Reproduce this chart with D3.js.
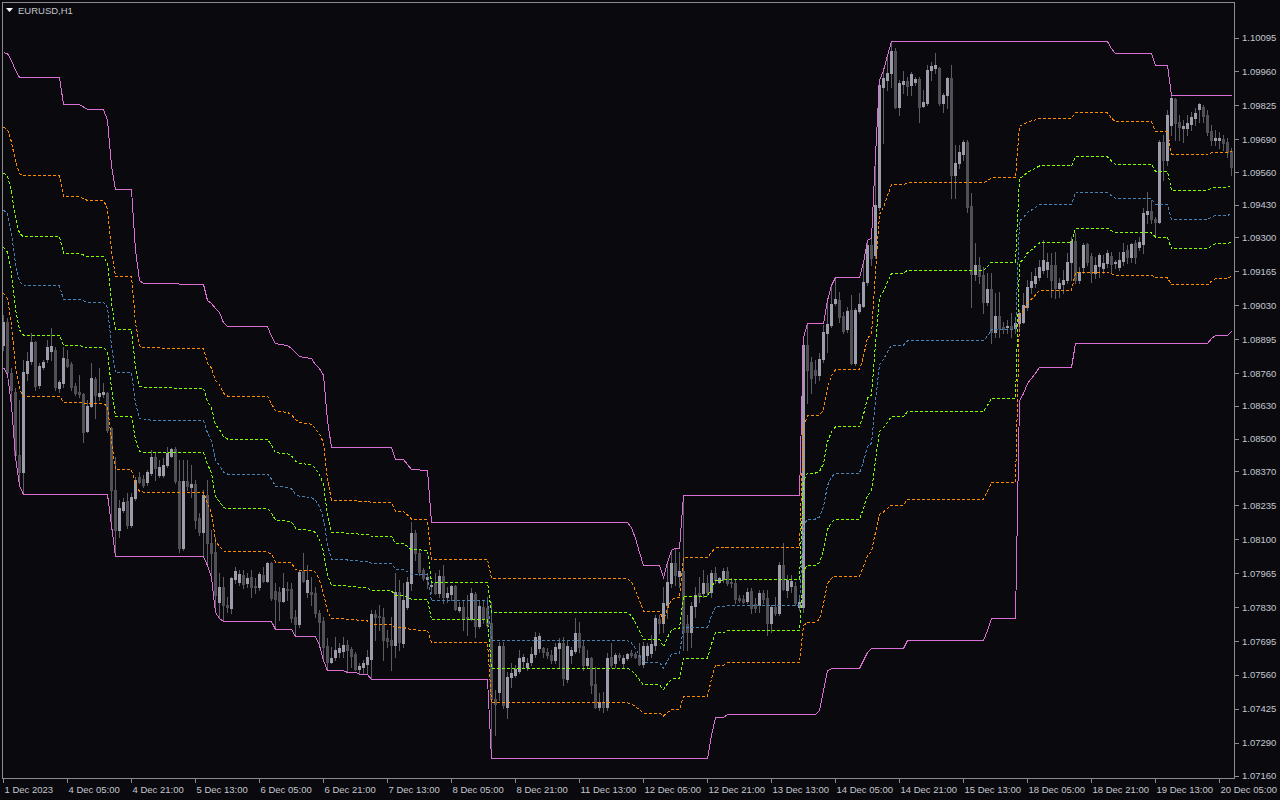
<!DOCTYPE html>
<html><head><meta charset="utf-8">
<script src="https://cdn.jsdelivr.net/npm/d3@7"></script>
<style>
html,body{margin:0;padding:0;background:#0a0a0e;overflow:hidden;}
svg{display:block;}
</style></head><body>
<svg id="chart" width="1280" height="800"></svg>
<script>
const chartTitle = "EURUSD,H1";
const timeLabels = ["1 Dec 2023","4 Dec 05:00","4 Dec 21:00","5 Dec 13:00","6 Dec 05:00","6 Dec 21:00","7 Dec 13:00","8 Dec 05:00","8 Dec 21:00","11 Dec 13:00","12 Dec 05:00","12 Dec 21:00","13 Dec 13:00","14 Dec 05:00","14 Dec 21:00","15 Dec 13:00","18 Dec 05:00","18 Dec 21:00","19 Dec 13:00","20 Dec 05:00"];
const timeLabelBars = [0,16,32,48,64,80,96,112,128,144,160,176,192,208,224,240,256,272,288,304];
const priceLabels = ["1.10095","1.09960","1.09825","1.09690","1.09560","1.09430","1.09300","1.09165","1.09030","1.08895","1.08760","1.08630","1.08500","1.08370","1.08235","1.08100","1.07965","1.07830","1.07695","1.07560","1.07425","1.07290","1.07160"];

const open = [1.08872,1.08963,1.08760,1.08686,1.08435,1.08367,1.08760,1.08808,1.08884,1.08712,
1.08784,1.08816,1.08848,1.08852,1.08700,1.08720,1.08816,1.08796,1.08708,1.08686,
1.08678,1.08530,1.08630,1.08736,1.08670,1.08678,1.08682,1.08542,1.08296,1.08136,
1.08216,1.08252,1.08156,1.08264,1.08347,1.08339,1.08327,1.08363,1.08427,1.08355,
1.08355,1.08395,1.08431,1.08459,1.08331,1.08065,1.08331,1.08307,1.08319,1.08184,
1.08128,1.08276,1.08085,1.08049,1.07850,1.07909,1.07838,1.07826,1.07941,1.07929,
1.07957,1.07925,1.07949,1.07913,1.07909,1.07957,1.07933,1.08005,1.07894,1.07890,
1.07854,1.07901,1.07901,1.07790,1.07762,1.07973,1.07890,1.07890,1.07886,1.07806,
1.07774,1.07675,1.07611,1.07631,1.07651,1.07655,1.07679,1.07663,1.07643,1.07583,
1.07591,1.07603,1.07623,1.07802,1.07794,1.07790,1.07706,1.07698,1.07679,1.07890,
1.07687,1.07830,1.07925,1.08124,1.08045,1.07977,1.07941,1.07913,1.07925,1.07886,
1.07953,1.07870,1.07882,1.07913,1.07818,1.07830,1.07790,1.07782,1.07882,1.07754,
1.07830,1.07826,1.07766,1.07464,1.07492,1.07675,1.07432,1.07551,1.07559,1.07575,
1.07615,1.07591,1.07611,1.07643,1.07667,1.07667,1.07651,1.07639,1.07619,1.07667,
1.07687,1.07543,1.07639,1.07655,1.07726,1.07675,1.07599,1.07627,1.07523,1.07432,
1.07452,1.07432,1.07631,1.07607,1.07639,1.07607,1.07627,1.07647,1.07643,1.07639,
1.07603,1.07639,1.07647,1.07679,1.07782,1.07766,1.07838,1.07925,1.08005,1.07953,
1.07973,1.07762,1.07730,1.07834,1.07886,1.07886,1.07925,1.07890,1.07965,1.07929,
1.07941,1.07973,1.07929,1.07925,1.07866,1.07862,1.07854,1.07894,1.07842,1.07838,
1.07886,1.07866,1.07766,1.07830,1.07806,1.07997,1.07898,1.07913,1.07913,1.07830,
1.07830,1.08872,1.08804,1.08772,1.08752,1.08816,1.08919,1.08951,1.09039,1.09051,
1.08987,1.08935,1.09011,1.08800,1.09007,1.09027,1.09122,1.09270,1.09230,1.09421,
1.09897,1.09925,1.09953,1.10041,1.09818,1.09909,1.09921,1.09905,1.09917,1.09929,
1.09822,1.09834,1.09965,1.09973,1.09973,1.09834,1.09866,1.09933,1.09547,1.09595,
1.09631,1.09679,1.09425,1.09154,1.09190,1.09150,1.09043,1.09094,1.08923,1.08987,
1.08943,1.08943,1.08947,1.08939,1.08959,1.08963,1.09023,1.09102,1.09118,1.09142,
1.09170,1.09174,1.09190,1.09190,1.09098,1.09114,1.09130,1.09202,1.09286,1.09130,
1.09182,1.09274,1.09226,1.09158,1.09186,1.09178,1.09198,1.09226,1.09198,1.09182,
1.09206,1.09250,1.09222,1.09278,1.09262,1.09274,1.09393,1.09405,1.09373,1.09361,
1.09679,1.09607,1.09746,1.09850,1.09758,1.09735,1.09735,1.09750,1.09774,1.09810,
1.09818,1.09786,1.09722,1.09687,1.09687,1.09690,1.09679,1.09643];

const high = [1.08991,1.08979,1.08780,1.08700,1.08654,1.08812,1.08844,1.08919,1.08888,1.08800,
1.08812,1.08892,1.08939,1.08864,1.08732,1.08864,1.08852,1.08804,1.08720,1.08752,
1.08682,1.08654,1.08800,1.08744,1.08780,1.08720,1.08686,1.08546,1.08427,1.08256,
1.08264,1.08284,1.08284,1.08347,1.08367,1.08355,1.08375,1.08455,1.08447,1.08415,
1.08423,1.08467,1.08463,1.08466,1.08415,1.08415,1.08415,1.08395,1.08335,1.08204,
1.08296,1.08335,1.08136,1.08108,1.07965,1.07949,1.07870,1.07949,1.07989,1.07977,
1.07977,1.07965,1.07977,1.07945,1.07969,1.07989,1.08009,1.08009,1.07925,1.07909,
1.07965,1.07929,1.07925,1.07818,1.07977,1.08045,1.07997,1.07949,1.07909,1.07818,
1.07790,1.07706,1.07671,1.07710,1.07687,1.07710,1.07698,1.07671,1.07651,1.07607,
1.07619,1.07659,1.07818,1.07818,1.07838,1.07826,1.07738,1.07790,1.07965,1.07937,
1.07925,1.07949,1.08168,1.08136,1.08057,1.07985,1.07965,1.07937,1.07965,1.07977,
1.07997,1.07909,1.07917,1.07917,1.07850,1.07858,1.07878,1.07905,1.07890,1.07858,
1.07858,1.07870,1.07850,1.07500,1.07691,1.07691,1.07571,1.07607,1.07599,1.07659,
1.07643,1.07627,1.07671,1.07730,1.07726,1.07671,1.07667,1.07659,1.07687,1.07706,
1.07710,1.07698,1.07671,1.07786,1.07770,1.07698,1.07659,1.07631,1.07591,1.07488,
1.07492,1.07647,1.07687,1.07647,1.07647,1.07639,1.07647,1.07659,1.07651,1.07687,
1.07691,1.07687,1.07718,1.07798,1.07798,1.07909,1.08009,1.08057,1.08065,1.08049,
1.08275,1.07798,1.07850,1.07909,1.07949,1.07977,1.07957,1.07977,1.07989,1.07949,
1.07985,1.07989,1.07945,1.07937,1.07878,1.07878,1.07905,1.07905,1.07866,1.07898,
1.07898,1.07898,1.07838,1.07870,1.08009,1.08085,1.07957,1.07957,1.07929,1.07878,
1.08903,1.08959,1.08824,1.08812,1.08840,1.08951,1.09051,1.09110,1.09142,1.09083,
1.09003,1.09023,1.09071,1.09019,1.09079,1.09202,1.09290,1.09297,1.09627,1.09925,
1.09965,1.10025,1.10081,1.10053,1.09925,1.09961,1.09937,1.09957,1.09937,1.09937,
1.09886,1.09985,1.09997,1.10033,1.09977,1.09874,1.09937,1.09985,1.09667,1.09667,
1.09687,1.09687,1.09477,1.09278,1.09222,1.09182,1.09158,1.09158,1.09079,1.09083,
1.08963,1.08971,1.08999,1.08971,1.09011,1.09079,1.09130,1.09162,1.09178,1.09210,
1.09290,1.09238,1.09238,1.09242,1.09138,1.09170,1.09238,1.09301,1.09317,1.09182,
1.09278,1.09278,1.09238,1.09222,1.09238,1.09230,1.09250,1.09242,1.09210,1.09242,
1.09278,1.09270,1.09278,1.09290,1.09301,1.09417,1.09481,1.09449,1.09381,1.09687,
1.09706,1.09806,1.09862,1.09854,1.09786,1.09766,1.09786,1.09798,1.09814,1.09834,
1.09826,1.09806,1.09746,1.09726,1.09718,1.09706,1.09695,1.09655];

const low = [1.08852,1.08756,1.08634,1.08427,1.08315,1.08280,1.08732,1.08796,1.08694,1.08700,
1.08776,1.08804,1.08812,1.08694,1.08686,1.08704,1.08784,1.08694,1.08674,1.08666,
1.08487,1.08526,1.08626,1.08582,1.08654,1.08666,1.08526,1.08156,1.08033,1.08108,
1.08208,1.08144,1.08148,1.08256,1.08323,1.08307,1.08315,1.08355,1.08335,1.08347,
1.08347,1.08387,1.08427,1.08323,1.08049,1.08057,1.08296,1.08268,1.08144,1.08116,
1.08033,1.07997,1.07949,1.07810,1.07786,1.07774,1.07810,1.07806,1.07925,1.07917,
1.07905,1.07909,1.07870,1.07886,1.07898,1.07929,1.07929,1.07858,1.07742,1.07778,
1.07850,1.07858,1.07770,1.07714,1.07750,1.07929,1.07870,1.07838,1.07790,1.07679,
1.07619,1.07579,1.07607,1.07619,1.07631,1.07631,1.07571,1.07591,1.07579,1.07563,
1.07563,1.07563,1.07543,1.07698,1.07738,1.07619,1.07671,1.07579,1.07631,1.07659,
1.07671,1.07822,1.07898,1.08017,1.07957,1.07937,1.07905,1.07886,1.07882,1.07870,
1.07846,1.07850,1.07858,1.07818,1.07810,1.07738,1.07718,1.07778,1.07710,1.07746,
1.07766,1.07750,1.07229,1.07320,1.07460,1.07428,1.07388,1.07511,1.07551,1.07567,
1.07591,1.07579,1.07599,1.07631,1.07651,1.07631,1.07627,1.07607,1.07607,1.07591,
1.07519,1.07531,1.07607,1.07647,1.07651,1.07579,1.07587,1.07488,1.07428,1.07420,
1.07412,1.07420,1.07591,1.07591,1.07619,1.07587,1.07619,1.07631,1.07627,1.07599,
1.07591,1.07619,1.07631,1.07659,1.07726,1.07730,1.07786,1.07909,1.07917,1.07909,
1.07659,1.07659,1.07671,1.07790,1.07850,1.07870,1.07878,1.07870,1.07925,1.07925,
1.07929,1.07917,1.07909,1.07846,1.07850,1.07846,1.07846,1.07806,1.07810,1.07810,
1.07846,1.07718,1.07730,1.07798,1.07798,1.07898,1.07870,1.07890,1.07838,1.07818,
1.07810,1.08642,1.08682,1.08720,1.08732,1.08804,1.08844,1.08943,1.09031,1.08963,
1.08919,1.08923,1.08796,1.08792,1.08999,1.09023,1.09110,1.09190,1.09218,1.09409,
1.09675,1.09886,1.09897,1.09814,1.09786,1.09874,1.09866,1.09866,1.09905,1.09758,
1.09818,1.09826,1.09925,1.09953,1.09826,1.09798,1.09814,1.09457,1.09457,1.09575,
1.09607,1.09401,1.09023,1.09130,1.09118,1.08999,1.09031,1.08880,1.08903,1.08903,
1.08919,1.08919,1.08903,1.08919,1.08939,1.08959,1.09011,1.09079,1.09102,1.09130,
1.09158,1.09142,1.09063,1.09059,1.09063,1.09079,1.09118,1.09130,1.09118,1.09118,
1.09158,1.09190,1.09122,1.09138,1.09142,1.09158,1.09182,1.09162,1.09178,1.09170,
1.09190,1.09198,1.09202,1.09198,1.09250,1.09238,1.09357,1.09357,1.09301,1.09357,
1.09527,1.09587,1.09706,1.09687,1.09687,1.09679,1.09706,1.09726,1.09746,1.09758,
1.09758,1.09706,1.09667,1.09667,1.09655,1.09647,1.09619,1.09547];

const close = [1.08963,1.08764,1.08694,1.08435,1.08367,1.08764,1.08808,1.08884,1.08708,1.08788,
1.08804,1.08864,1.08868,1.08704,1.08724,1.08820,1.08788,1.08704,1.08682,1.08678,
1.08526,1.08630,1.08740,1.08674,1.08682,1.08686,1.08534,1.08296,1.08136,1.08224,
1.08248,1.08156,1.08268,1.08335,1.08327,1.08315,1.08367,1.08427,1.08383,1.08387,
1.08395,1.08443,1.08459,1.08331,1.08065,1.08331,1.08311,1.08319,1.08176,1.08128,
1.08276,1.08085,1.08045,1.07878,1.07909,1.07838,1.07830,1.07945,1.07973,1.07961,
1.07921,1.07945,1.07909,1.07909,1.07961,1.07933,1.08005,1.07866,1.07862,1.07854,
1.07905,1.07898,1.07786,1.07762,1.07969,1.07933,1.07937,1.07882,1.07806,1.07770,
1.07671,1.07611,1.07627,1.07659,1.07667,1.07679,1.07659,1.07635,1.07583,1.07595,
1.07607,1.07631,1.07802,1.07790,1.07790,1.07698,1.07695,1.07679,1.07890,1.07691,
1.07858,1.07929,1.08124,1.08045,1.07969,1.07945,1.07949,1.07917,1.07886,1.07953,
1.07870,1.07886,1.07913,1.07822,1.07830,1.07786,1.07786,1.07886,1.07754,1.07834,
1.07782,1.07758,1.07464,1.07444,1.07675,1.07440,1.07551,1.07567,1.07583,1.07627,
1.07631,1.07607,1.07643,1.07710,1.07714,1.07651,1.07639,1.07619,1.07671,1.07687,
1.07547,1.07675,1.07659,1.07726,1.07671,1.07599,1.07627,1.07519,1.07432,1.07452,
1.07432,1.07627,1.07599,1.07639,1.07631,1.07627,1.07643,1.07639,1.07631,1.07603,
1.07675,1.07675,1.07683,1.07786,1.07766,1.07846,1.07929,1.08005,1.07957,1.07973,
1.07730,1.07730,1.07834,1.07878,1.07874,1.07925,1.07890,1.07965,1.07937,1.07945,
1.07973,1.07925,1.07925,1.07862,1.07858,1.07850,1.07890,1.07826,1.07826,1.07886,
1.07862,1.07766,1.07830,1.07806,1.07997,1.07901,1.07937,1.07933,1.07846,1.07850,
1.08872,1.08772,1.08740,1.08752,1.08816,1.08923,1.08955,1.09035,1.09055,1.08983,
1.08927,1.09007,1.08800,1.09011,1.09035,1.09122,1.09270,1.09218,1.09429,1.09905,
1.09933,1.09953,1.10041,1.09818,1.09913,1.09921,1.09901,1.09949,1.09929,1.09818,
1.09838,1.09965,1.09981,1.09985,1.09834,1.09866,1.09933,1.09547,1.09595,1.09639,
1.09679,1.09421,1.09154,1.09190,1.09146,1.09043,1.09094,1.08923,1.08987,1.08939,
1.08935,1.08947,1.08939,1.08959,1.08999,1.09031,1.09102,1.09126,1.09146,1.09182,
1.09210,1.09202,1.09130,1.09098,1.09118,1.09130,1.09202,1.09286,1.09130,1.09162,
1.09270,1.09202,1.09158,1.09190,1.09230,1.09198,1.09238,1.09194,1.09202,1.09210,
1.09242,1.09222,1.09274,1.09222,1.09282,1.09397,1.09405,1.09373,1.09361,1.09679,
1.09607,1.09786,1.09854,1.09754,1.09739,1.09743,1.09754,1.09778,1.09794,1.09830,
1.09782,1.09718,1.09687,1.09695,1.09695,1.09675,1.09639,1.09579];

// Band indicator: bar index where a value changes, and the value of each line there
const bandBars = [0,1,2,3,4,5,14,15,19,21,25,26,27,28,32,33,34,35,50,51,
52,53,54,55,56,66,67,68,71,72,73,74,77,78,79,80,81,82,85,86,
88,89,91,92,97,98,100,102,106,107,121,122,156,157,158,159,160,164,165,166,
167,168,169,170,176,177,178,180,181,199,200,201,203,204,205,206,207,208,214,215,
216,217,218,219,220,221,222,225,226,245,246,247,253,254,255,256,257,259,267,268,
276,277,278,287,288,291,292,301,302,303,306,307];

const upperBand = [1.10037,1.10033,1.10005,1.09966,1.09938,1.09938,1.09938,1.09830,1.09830,1.09811,
1.09811,1.09767,1.09588,1.09492,1.09492,1.09250,1.09130,1.09119,1.09115,1.09051,
1.09039,1.09019,1.09003,1.08963,1.08948,1.08948,1.08908,1.08880,1.08872,1.08860,
1.08844,1.08828,1.08820,1.08796,1.08780,1.08753,1.08574,1.08466,1.08466,1.08466,
1.08466,1.08466,1.08466,1.08466,1.08466,1.08419,1.08419,1.08379,1.08375,1.08168,
1.08168,1.08168,1.08168,1.08148,1.08104,1.08049,1.07997,1.07997,1.07949,1.08009,
1.08057,1.08065,1.08065,1.08275,1.08275,1.08275,1.08275,1.08275,1.08275,1.08275,
1.08904,1.08959,1.08959,1.08959,1.08959,1.09051,1.09111,1.09142,1.09142,1.09202,
1.09290,1.09298,1.09628,1.09926,1.09966,1.10025,1.10081,1.10081,1.10081,1.10081,
1.10081,1.10081,1.10081,1.10081,1.10081,1.10081,1.10081,1.10081,1.10081,1.10081,
1.10081,1.10053,1.10033,1.10033,1.09986,1.09986,1.09866,1.09866,1.09866,1.09866,
1.09866,1.09866];

const lowerBand = [1.08784,1.08757,1.08633,1.08426,1.08315,1.08279,1.08279,1.08279,1.08279,1.08279,
1.08279,1.08279,1.08156,1.08033,1.08033,1.08033,1.08033,1.08033,1.08033,1.07997,
1.07949,1.07810,1.07786,1.07774,1.07774,1.07774,1.07774,1.07743,1.07743,1.07743,
1.07715,1.07715,1.07715,1.07715,1.07679,1.07619,1.07579,1.07579,1.07579,1.07572,
1.07572,1.07564,1.07564,1.07544,1.07544,1.07544,1.07544,1.07544,1.07544,1.07544,
1.07544,1.07229,1.07229,1.07229,1.07229,1.07229,1.07229,1.07229,1.07229,1.07229,
1.07229,1.07229,1.07229,1.07229,1.07229,1.07321,1.07393,1.07393,1.07404,1.07404,
1.07404,1.07404,1.07404,1.07420,1.07500,1.07579,1.07587,1.07587,1.07587,1.07619,
1.07651,1.07667,1.07667,1.07667,1.07667,1.07667,1.07667,1.07667,1.07699,1.07699,
1.07739,1.07786,1.07786,1.08653,1.08681,1.08721,1.08741,1.08784,1.08784,1.08880,
1.08880,1.08880,1.08880,1.08880,1.08880,1.08880,1.08880,1.08880,1.08900,1.08912,
1.08912,1.08928];

const level236 = [1.09741,1.09732,1.09681,1.09603,1.09555,1.09547,1.09547,1.09464,1.09464,1.09449,
1.09449,1.09416,1.09250,1.09148,1.09148,1.08963,1.08871,1.08863,1.08860,1.08802,
1.08782,1.08734,1.08716,1.08682,1.08671,1.08671,1.08640,1.08612,1.08606,1.08596,
1.08578,1.08565,1.08559,1.08541,1.08520,1.08485,1.08339,1.08257,1.08257,1.08255,
1.08255,1.08253,1.08253,1.08248,1.08248,1.08213,1.08213,1.08182,1.08179,1.08021,
1.08021,1.07946,1.07946,1.07931,1.07898,1.07856,1.07816,1.07816,1.07779,1.07825,
1.07862,1.07868,1.07868,1.08028,1.08028,1.08050,1.08067,1.08067,1.08069,1.08069,
1.08550,1.08592,1.08592,1.08596,1.08615,1.08704,1.08751,1.08775,1.08775,1.08828,
1.08903,1.08913,1.09165,1.09393,1.09423,1.09469,1.09511,1.09511,1.09519,1.09519,
1.09528,1.09539,1.09539,1.09744,1.09751,1.09760,1.09765,1.09775,1.09775,1.09798,
1.09798,1.09776,1.09761,1.09761,1.09725,1.09725,1.09633,1.09633,1.09638,1.09641,
1.09641,1.09645];

const level382 = [1.09558,1.09546,1.09481,1.09378,1.09318,1.09304,1.09304,1.09238,1.09238,1.09226,
1.09226,1.09199,1.09041,1.08935,1.08935,1.08785,1.08711,1.08704,1.08702,1.08648,
1.08623,1.08557,1.08538,1.08509,1.08500,1.08500,1.08475,1.08446,1.08441,1.08433,
1.08413,1.08403,1.08398,1.08383,1.08359,1.08320,1.08194,1.08127,1.08127,1.08125,
1.08125,1.08121,1.08121,1.08114,1.08114,1.08085,1.08085,1.08060,1.08058,1.07930,
1.07930,1.07809,1.07809,1.07797,1.07770,1.07736,1.07704,1.07704,1.07674,1.07711,
1.07741,1.07746,1.07746,1.07875,1.07875,1.07911,1.07938,1.07938,1.07942,1.07942,
1.08331,1.08365,1.08365,1.08371,1.08402,1.08489,1.08529,1.08548,1.08548,1.08597,
1.08664,1.08675,1.08879,1.09063,1.09088,1.09124,1.09159,1.09159,1.09171,1.09171,
1.09186,1.09204,1.09204,1.09536,1.09546,1.09562,1.09569,1.09586,1.09586,1.09622,
1.09622,1.09605,1.09593,1.09593,1.09564,1.09564,1.09489,1.09489,1.09497,1.09502,
1.09502,1.09508];

const level500 = [1.09411,1.09395,1.09319,1.09196,1.09127,1.09109,1.09109,1.09055,1.09055,1.09045,
1.09045,1.09023,1.08872,1.08763,1.08763,1.08642,1.08582,1.08576,1.08574,1.08524,
1.08494,1.08415,1.08395,1.08369,1.08361,1.08361,1.08341,1.08312,1.08308,1.08302,
1.08280,1.08272,1.08268,1.08256,1.08230,1.08186,1.08077,1.08023,1.08023,1.08019,
1.08019,1.08015,1.08015,1.08005,1.08005,1.07982,1.07982,1.07962,1.07960,1.07856,
1.07856,1.07699,1.07699,1.07689,1.07667,1.07639,1.07613,1.07613,1.07589,1.07619,
1.07643,1.07647,1.07647,1.07752,1.07752,1.07798,1.07834,1.07834,1.07840,1.07840,
1.08154,1.08182,1.08182,1.08190,1.08230,1.08315,1.08349,1.08365,1.08365,1.08411,
1.08471,1.08483,1.08648,1.08797,1.08817,1.08846,1.08874,1.08874,1.08890,1.08890,
1.08910,1.08934,1.08934,1.09367,1.09381,1.09401,1.09411,1.09433,1.09433,1.09481,
1.09481,1.09467,1.09457,1.09457,1.09433,1.09433,1.09373,1.09373,1.09383,1.09389,
1.09389,1.09397];

const level618 = [1.09263,1.09244,1.09157,1.09014,1.08935,1.08913,1.08913,1.08872,1.08872,1.08864,
1.08864,1.08847,1.08703,1.08590,1.08590,1.08498,1.08452,1.08448,1.08446,1.08400,
1.08365,1.08272,1.08251,1.08228,1.08223,1.08223,1.08207,1.08177,1.08174,1.08170,
1.08146,1.08140,1.08137,1.08128,1.08100,1.08052,1.07959,1.07918,1.07918,1.07914,
1.07914,1.07909,1.07909,1.07896,1.07896,1.07878,1.07878,1.07863,1.07861,1.07782,
1.07782,1.07588,1.07588,1.07580,1.07563,1.07542,1.07522,1.07522,1.07504,1.07527,
1.07545,1.07548,1.07548,1.07629,1.07629,1.07685,1.07730,1.07730,1.07737,1.07737,
1.07977,1.07998,1.07998,1.08008,1.08057,1.08141,1.08169,1.08181,1.08181,1.08224,
1.08277,1.08290,1.08416,1.08530,1.08545,1.08568,1.08589,1.08589,1.08609,1.08609,
1.08634,1.08663,1.08663,1.09199,1.09216,1.09241,1.09253,1.09280,1.09280,1.09339,
1.09339,1.09328,1.09320,1.09320,1.09303,1.09303,1.09257,1.09257,1.09269,1.09276,
1.09276,1.09286];

const level764 = [1.09080,1.09058,1.08957,1.08789,1.08698,1.08671,1.08671,1.08645,1.08645,1.08641,
1.08641,1.08630,1.08494,1.08377,1.08377,1.08320,1.08292,1.08289,1.08288,1.08246,
1.08206,1.08095,1.08073,1.08055,1.08051,1.08051,1.08042,1.08011,1.08009,1.08007,
1.07981,1.07978,1.07976,1.07970,1.07939,1.07887,1.07814,1.07788,1.07788,1.07783,
1.07783,1.07777,1.07777,1.07762,1.07762,1.07751,1.07751,1.07741,1.07740,1.07691,
1.07691,1.07451,1.07451,1.07446,1.07436,1.07423,1.07410,1.07410,1.07399,1.07413,
1.07424,1.07426,1.07426,1.07476,1.07476,1.07546,1.07601,1.07601,1.07610,1.07610,
1.07758,1.07771,1.07771,1.07783,1.07844,1.07926,1.07947,1.07954,1.07954,1.07993,
1.08038,1.08052,1.08130,1.08200,1.08210,1.08224,1.08237,1.08237,1.08261,1.08261,
1.08292,1.08328,1.08328,1.08990,1.09011,1.09042,1.09057,1.09090,1.09090,1.09163,
1.09163,1.09157,1.09152,1.09152,1.09141,1.09141,1.09113,1.09113,1.09128,1.09137,
1.09137,1.09149];

// ---------------- drawing ----------------
const W = 1280, H = 800;
const frame = {left: 2, top: 2, right: 1234, bottom: 778};
const colors = {
  bg: "#0a0a0e", frame: "#8c8c8c", text: "#c4c7ce",
  bull: "#9c9cab", bear: "#505056", wick: "#5c5c62",
  band: "#da70d6", orange: "#ff8c00", green: "#7fff00", blue: "#4682b4"
};
const fontFamily = "'Liberation Sans', Arial, sans-serif";
const fontSize = "9.5px";

const svg = d3.select("#chart");
svg.append("rect").attr("width", W).attr("height", H).attr("fill", colors.bg);

const x = d3.scaleLinear().domain([0, 307]).range([3, 1231]);
const y = d3.scaleLinear().domain([1.07160, 1.10095]).range([776, 38]);

svg.append("defs").append("clipPath").attr("id", "plotClip")
  .append("rect").attr("x", frame.left + 1).attr("y", frame.top + 1)
  .attr("width", frame.right - frame.left - 1).attr("height", frame.bottom - frame.top - 1);

const plot = svg.append("g").attr("clip-path", "url(#plotClip)");

const bars = d3.range(open.length).map(i => ({i, o: open[i], h: high[i], l: low[i], c: close[i]}));
const row = v => Math.floor(y(v));

// wicks
plot.append("g").selectAll("rect").data(bars).join("rect")
  .attr("x", d => x(d.i)).attr("width", 1)
  .attr("y", d => row(d.h))
  .attr("height", d => row(d.l) - row(d.h) + 1)
  .attr("fill", colors.wick).attr("shape-rendering", "crispEdges");

// bodies
plot.append("g").selectAll("rect").data(bars).join("rect")
  .attr("x", d => x(d.i) - 1).attr("width", 3)
  .attr("y", d => row(Math.max(d.o, d.c)))
  .attr("height", d => Math.max(1, row(Math.min(d.o, d.c)) - row(Math.max(d.o, d.c)) + 1))
  .attr("fill", d => d.c >= d.o ? colors.bull : colors.bear)
  .attr("shape-rendering", "crispEdges");

// indicator lines
const lineGen = d3.line().x(d => x(d[0]) + 0.5).y(d => y(d[1]));
const series = [
  {vals: level764, color: colors.orange, dash: "3,2"},
  {vals: level618, color: colors.green, dash: "3,2"},
  {vals: level500, color: colors.blue, dash: "3,2"},
  {vals: level382, color: colors.green, dash: "3,2"},
  {vals: level236, color: colors.orange, dash: "3,2"},
  {vals: lowerBand, color: colors.band, dash: null},
  {vals: upperBand, color: colors.band, dash: null}
];
plot.append("g").selectAll("path").data(series).join("path")
  .attr("d", s => lineGen(bandBars.map((b, k) => [b, s.vals[k]])))
  .attr("fill", "none").attr("stroke", s => s.color).attr("stroke-width", 1)
  .attr("stroke-dasharray", s => s.dash)
  .attr("shape-rendering", "crispEdges");

// frame
svg.append("rect").attr("x", frame.left + 0.5).attr("y", frame.top + 0.5)
  .attr("width", frame.right - frame.left).attr("height", frame.bottom - frame.top)
  .attr("fill", "none").attr("stroke", colors.frame).attr("shape-rendering", "crispEdges");

// price axis
const yAxis = d3.axisRight(y)
  .tickValues(priceLabels.map(Number))
  .tickFormat((d, i) => priceLabels[i])
  .tickSize(4).tickPadding(3).offset(0);
const gy = svg.append("g").attr("transform", `translate(${frame.right + 1},0)`).call(yAxis);
gy.select(".domain").remove();
gy.selectAll(".tick line").attr("stroke", colors.frame).attr("shape-rendering", "crispEdges");
gy.selectAll(".tick text").attr("fill", colors.text)
  .style("font-family", fontFamily).style("font-size", fontSize);

// time axis
const xAxis = d3.axisBottom(x)
  .tickValues(timeLabelBars)
  .tickFormat((d, i) => timeLabels[i])
  .tickSize(4).tickPadding(3);
const gx = svg.append("g").attr("transform", `translate(0,${frame.bottom + 1})`).call(xAxis);
gx.select(".domain").remove();
gx.selectAll(".tick line").attr("stroke", colors.frame).attr("shape-rendering", "crispEdges");
gx.selectAll(".tick text").attr("fill", colors.text).attr("text-anchor", "start").attr("x", 1)
  .style("font-family", fontFamily).style("font-size", fontSize);

// title
svg.append("path").attr("d", "M6,8 L13,8 L9.5,12 Z").attr("fill", "#ffffff");
svg.append("text").attr("x", 18).attr("y", 14).text(chartTitle)
  .attr("fill", colors.text)
  .style("font-family", fontFamily).style("font-size", fontSize);
</script>
</body></html>
